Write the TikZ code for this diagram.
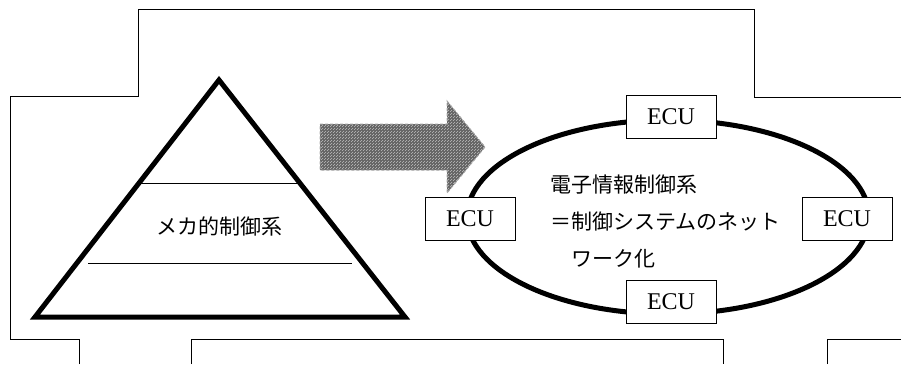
\documentclass[tikz,border=0pt]{standalone}
\usepackage{fontspec}
\setmainfont{Liberation Serif}
\newfontfamily\jp{Noto Sans CJK JP}
\usetikzlibrary{shapes.geometric,patterns}
\tikzset{
  frame/.style={line width=1pt, line join=miter},
  ecubox/.style={draw, line width=1pt, fill=white, minimum width=90pt, minimum height=43pt, inner sep=0pt, font=\fontsize{24}{26}\selectfont},
  ring/.style={ellipse, draw, line width=5pt, minimum width=402pt, minimum height=194pt, inner sep=0pt},
  jptext/.style={font=\jp\fontsize{21}{37}\selectfont, inner sep=0pt},
  bigarrow/.style={preaction={fill=black!62}, pattern=north east lines, pattern color=black!25, draw=black!35, densely dashed, line width=1pt}
}
\begin{document}
\begin{tikzpicture}[x=1pt,y=-1pt]
\useasboundingbox (0,0) rectangle (901,364);
% outline frame
\draw[frame] (79,364) -- (79,339) -- (10,339) -- (10,96) -- (138,96) -- (138,9) -- (754,9) -- (754,97) -- (901,97);
\draw[frame] (191,364) -- (191,339) -- (723,339) -- (723,364);
\draw[frame] (827,364) -- (827,339) -- (901,339);
% pyramid
\coordinate (apex) at (219,80);
\coordinate (bl) at (35,317);
\coordinate (br) at (405,317);
\draw[line width=1pt] (139,183) -- (300,183);
\draw[line width=1pt] (88,263) -- (352,263);
\draw[line width=5pt, line join=miter] (apex) -- (bl) -- (br) -- cycle;
\node[jptext] (mech) at (219,226) {メカ的制御系};
% arrow
\draw[bigarrow] (320,124) -- (447,124) -- (447,101) -- (485,147) -- (447,193) -- (447,170) -- (320,170) -- cycle;
% network
\node[ring] (net) at (668,217) {};
\node[ecubox] (ecuT) at (671,117) {ECU};
\node[ecubox] (ecuB) at (671,302) {ECU};
\node[ecubox] (ecuL) at (470,219) {ECU};
\node[ecubox] (ecuR) at (847,219) {ECU};
\node[jptext, anchor=west, align=left] (desc) at (550,221) {電子情報制御系\\＝制御システムのネット\\　ワーク化};
\end{tikzpicture}
\end{document}
